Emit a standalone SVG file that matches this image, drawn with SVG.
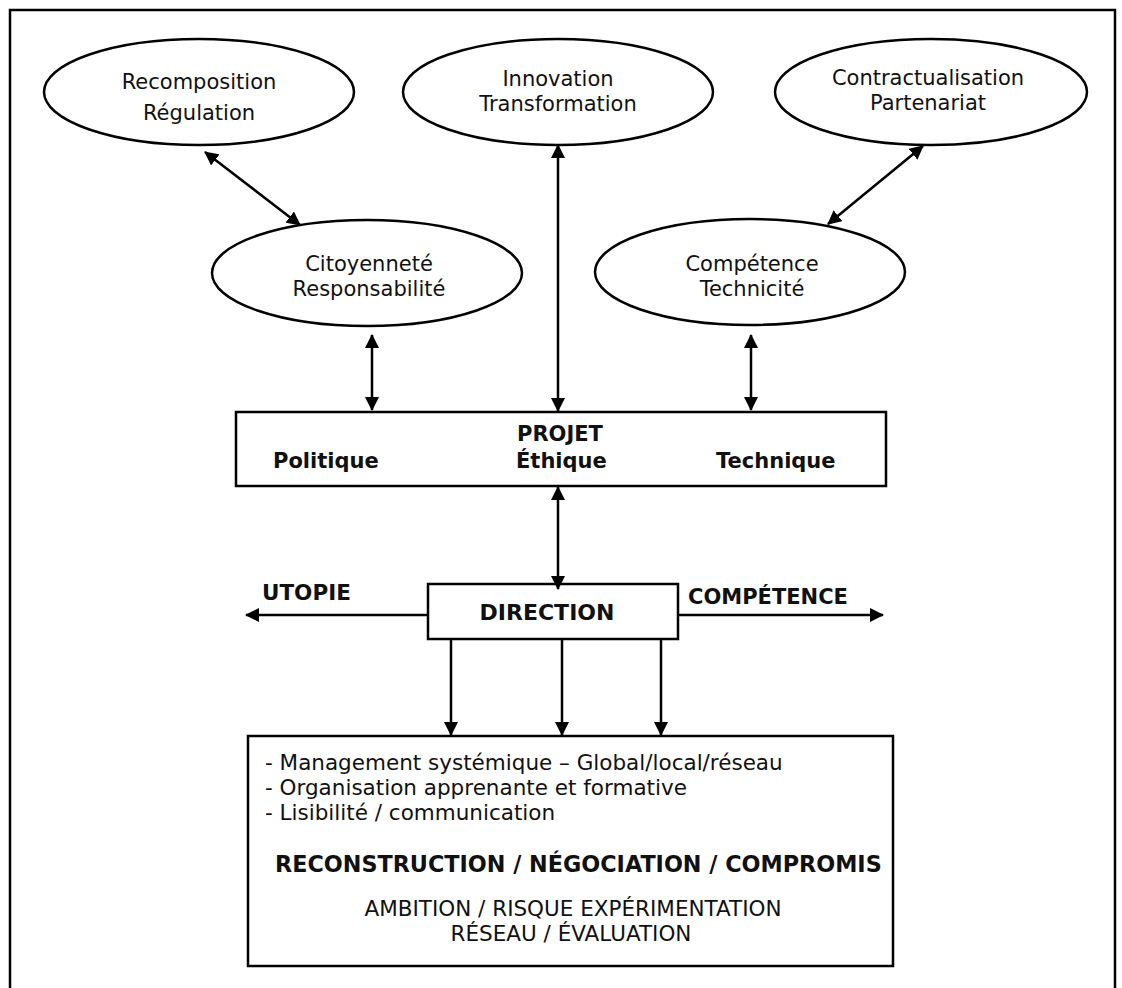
<svg xmlns="http://www.w3.org/2000/svg" width="1122" height="988" viewBox="0 0 1122 988">
<defs>
<marker id="ah" viewBox="0 0 14 14" refX="13" refY="7" markerWidth="14" markerHeight="14" markerUnits="userSpaceOnUse" orient="auto-start-reverse">
<path d="M0,0 L14,7 L0,14 Z" fill="#000"/>
</marker>
<style>
.sh{fill:#fff;stroke:#000;stroke-width:2.5}
.t{font-family:"DejaVu Sans",Verdana,sans-serif;font-size:21px;fill:#111}
.m{font-family:"DejaVu Sans",Verdana,sans-serif;font-size:21.5px;fill:#111}
.b{font-family:"DejaVu Sans",Verdana,sans-serif;font-size:21px;font-weight:bold;fill:#111}
.c{text-anchor:middle}
.ln{stroke:#000;stroke-width:2.5;fill:none}
.a2{marker-start:url(#ah);marker-end:url(#ah)}
.a1{marker-end:url(#ah)}
</style>
</defs>
<rect x="10" y="10" width="1105" height="1000" fill="#fff" stroke="#000" stroke-width="2.5"/>

<g id="recomposition">
<ellipse class="sh" cx="199" cy="92" rx="155" ry="53"/>
<text class="t c" x="199" y="89">Recomposition</text>
<text class="t c" x="199" y="120">Régulation</text>
</g>
<g id="innovation">
<ellipse class="sh" cx="558" cy="92" rx="155" ry="53"/>
<text class="t c" x="558" y="86">Innovation</text>
<text class="t c" x="558" y="111">Transformation</text>
</g>
<g id="contractualisation">
<ellipse class="sh" cx="931" cy="92" rx="156" ry="53"/>
<text class="t c" x="928" y="85">Contractualisation</text>
<text class="t c" x="928" y="110">Partenariat</text>
</g>
<g id="citoyennete">
<ellipse class="sh" cx="367" cy="273" rx="155" ry="53"/>
<text class="t c" x="369" y="271">Citoyenneté</text>
<text class="t c" x="369" y="296">Responsabilité</text>
</g>
<g id="competence">
<ellipse class="sh" cx="750" cy="272" rx="155" ry="53"/>
<text class="t c" x="752" y="271">Compétence</text>
<text class="t c" x="752" y="296">Technicité</text>
</g>
<g id="projet">
<rect class="sh" x="236" y="412" width="650" height="74"/>
<text class="b c" x="560" y="441">PROJET</text>
<text class="b" x="273" y="468">Politique</text>
<text class="b" x="516" y="468">Éthique</text>
<text class="b" x="716" y="468">Technique</text>
</g>
<g id="direction">
<rect class="sh" x="428" y="584" width="250" height="55"/>
<text class="b c" x="547" y="620" style="font-size:22px">DIRECTION</text>
</g>
<g id="utopie">
<text class="b" x="262" y="600" style="font-size:21.5px">UTOPIE</text>
</g>
<g id="competence-label">
<text class="b" x="688" y="604">COMPÉTENCE</text>
</g>
<g id="synthese">
<rect class="sh" x="248" y="736" width="645" height="230"/>
<text class="m" x="265" y="770">- Management systémique – Global/local/réseau</text>
<text class="m" x="265" y="795">- Organisation apprenante et formative</text>
<text class="m" x="265" y="820">- Lisibilité / communication</text>
<text class="b" x="275" y="872" style="font-size:22.3px">RECONSTRUCTION / NÉGOCIATION / COMPROMIS</text>
<text class="m c" x="573" y="916">AMBITION / RISQUE EXPÉRIMENTATION</text>
<text class="m c" x="571" y="941">RÉSEAU / ÉVALUATION</text>
</g>

<g id="connectors">
<line class="ln a2" x1="205" y1="152" x2="300" y2="225"/>
<line class="ln a2" x1="558" y1="145" x2="558" y2="411"/>
<line class="ln a2" x1="923" y1="146" x2="828" y2="224"/>
<line class="ln a2" x1="372" y1="335" x2="372" y2="410"/>
<line class="ln a2" x1="751" y1="335" x2="751" y2="410"/>
<line class="ln a2" x1="558" y1="487" x2="558" y2="589"/>
<line class="ln a1" x1="428" y1="615" x2="246" y2="615"/>
<line class="ln a1" x1="678" y1="615" x2="883" y2="615"/>
<line class="ln a1" x1="451" y1="639" x2="451" y2="735"/>
<line class="ln a1" x1="562" y1="639" x2="562" y2="735"/>
<line class="ln a1" x1="661" y1="639" x2="661" y2="735"/>
</g>
</svg>
